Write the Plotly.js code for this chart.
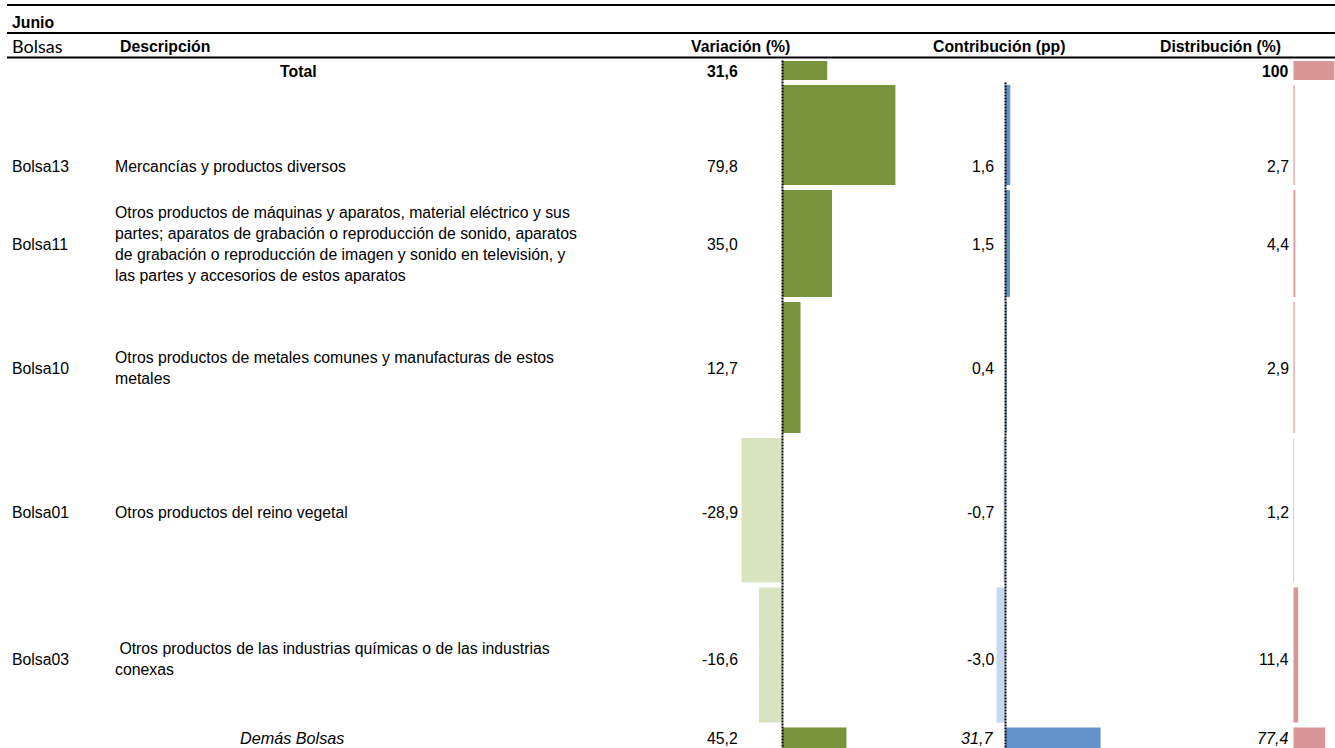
<!DOCTYPE html>
<html>
<head>
<meta charset="utf-8">
<script src="https://cdn.plot.ly/plotly-3.0.1.min.js"></script>
<style>html,body{margin:0;padding:0;background:#fff;}#chart{width:1335px;height:748px;}</style>
</head>
<body>
<div id="chart"></div>
<script>
// ---------------- DATA ----------------
const periodo = "Junio";
const headers = ["Bolsas", "Descripción", "Variación (%)", "Contribución (pp)", "Distribución (%)"];
const bolsas = ["", "Bolsa13", "Bolsa11", "Bolsa10", "Bolsa01", "Bolsa03", ""];
const descripcion = [
  "Total",
  "Mercancías y productos diversos",
  "Otros productos de máquinas y aparatos, material eléctrico y sus\npartes; aparatos de grabación o reproducción de sonido, aparatos\nde grabación o reproducción de imagen y sonido en televisión, y\nlas partes y accesorios de estos aparatos",
  "Otros productos de metales comunes y manufacturas de estos\nmetales",
  "Otros productos del reino vegetal",
  "\u00a0Otros productos de las industrias químicas o de las industrias\nconexas",
  "Demás Bolsas"
];
const variacion = [31.6, 79.8, 35.0, 12.7, -28.9, -16.6, 45.2];
const contribucion = [null, 1.6, 1.5, 0.4, -0.7, -3.0, 31.7];
const distribucion = [100, 2.7, 4.4, 2.9, 1.2, 11.4, 77.4];

// ---------------- LAYOUT / STYLE ----------------
const W = 1335, H = 748;
const rowEdges = [58.5, 82.5, 187.5, 299.5, 435.5, 585, 725, 751];
const barGap = 5;
const textY = [71, 166, 244, 368, 512, 659, 738];
const lineStep = 21.3;
const FONT = "Liberation Sans, Arial, sans-serif";
const FS = 15.8;
const colVarRight = 737.5, colConRight = 993.5, colDisRight = 1289;
const colBolsa = 12, colDesc = 114.5;

const C = {
  varPos: "#77933C", varNeg: "#D7E4BD",
  conPos: "#6591CB", conNeg: "#C6D9F1",
  dis: "#D99694"
};

// axis geometry: zero pixel, pixels per unit, pixel extent of domain
function axisSpec(zeroPx, ppu, px0, px1) {
  return {
    domain: [px0 / W, px1 / W],
    range: [(px0 - zeroPx) / ppu, (px1 - zeroPx) / ppu],
    visible: false, fixedrange: true, anchor: "y"
  };
}

const centers = rowEdges.slice(0, -1).map((e, i) => (e + rowEdges[i + 1]) / 2);
const thick = rowEdges.slice(0, -1).map((e, i) => rowEdges[i + 1] - e - barGap);

const traces = [
  {
    type: "bar", orientation: "h", y: centers, x: variacion, width: thick,
    marker: { color: variacion.map(v => v >= 0 ? C.varPos : C.varNeg), line: { width: 0 } },
    xaxis: "x", yaxis: "y", hoverinfo: "skip"
  },
  {
    type: "bar", orientation: "h", y: centers, x: contribucion, width: thick,
    marker: { color: contribucion.map(v => (v === null || v >= 0) ? C.conPos : C.conNeg), line: { width: 0 } },
    xaxis: "x2", yaxis: "y", hoverinfo: "skip"
  },
  {
    type: "bar", orientation: "h", y: centers, x: distribucion, width: thick,
    marker: { color: C.dis, line: { width: 0 } },
    xaxis: "x3", yaxis: "y", hoverinfo: "skip"
  }
];

function fmt(v) {
  if (v === null || v === undefined) return "";
  if (Number.isInteger(v) && Math.abs(v) >= 100) return String(v);
  return v.toFixed(1).replace(".", ",");
}

const ann = [];
function txt(t, xpx, y, anchor, opts) {
  opts = opts || {};
  ann.push({
    text: t, xref: "paper", x: xpx / W, yref: "y", y: y,
    xanchor: anchor, yanchor: "middle", showarrow: false, align: "left",
    borderpad: 0, borderwidth: 0,
    font: { family: opts.family || FONT, size: opts.size || FS, color: "#000" }
  });
}

// title row + headers
txt("<b>" + periodo + "</b>", colBolsa, 22, "left");
txt(headers[0], colBolsa - 0.5, 46, "left", { family: "Lato, Carlito, sans-serif", size: 18 });
txt("<b>" + headers[1] + "</b>", 119.5, 46, "left");
txt("<b>" + headers[2] + "</b>", 740, 46, "center");
txt("<b>" + headers[3] + "</b>", 998.5, 46, "center");
txt("<b>" + headers[4] + "</b>", 1220, 46, "center");

// style per row: 0=total(bold), last=others(italic)
const last = bolsas.length - 1;
bolsas.forEach((b, i) => {
  const y = textY[i];
  if (i === 0) {
    txt("<b>" + descripcion[i] + "</b>", 298, y, "center");
    txt("<b>" + fmt(variacion[i]) + "</b>", colVarRight, y, "right");
    txt("<b>" + fmt(contribucion[i]) + "</b>", colConRight, y, "right");
    txt("<b>" + fmt(distribucion[i]) + "</b>", colDisRight, y, "right");
  } else if (i === last) {
    txt("<i>" + descripcion[i] + "</i>", 292, y, "center", { size: 16.2 });
    txt(fmt(variacion[i]), colVarRight, y, "right");
    txt("<i>" + fmt(contribucion[i]) + "</i>", colConRight, y, "right", { size: 16.2 });
    txt("<i>" + fmt(distribucion[i]) + "</i>", colDisRight, y, "right", { size: 16.2 });
  } else {
    txt(b, colBolsa, y, "left");
    const lines = descripcion[i].split("\n");
    lines.forEach((ln, k) => {
      txt(ln, colDesc, y + (k - (lines.length - 1) / 2) * lineStep, "left");
    });
    txt(fmt(variacion[i]), colVarRight, y, "right");
    txt(fmt(contribucion[i]), colConRight, y, "right");
    txt(fmt(distribucion[i]), colDisRight, y, "right");
  }
});

const shapes = [
  { type: "line", xref: "paper", yref: "y", x0: 7 / W, x1: 1, y0: 5, y1: 5, line: { color: "#000", width: 2 } },
  { type: "line", xref: "paper", yref: "y", x0: 7 / W, x1: 1, y0: 33, y1: 33, line: { color: "#000", width: 2 } },
  { type: "line", xref: "paper", yref: "y", x0: 7 / W, x1: 1, y0: 57.5, y1: 57.5, line: { color: "#000", width: 2 } },
  { type: "line", xref: "x", yref: "y", x0: 0, x1: 0, y0: rowEdges[0] + 2, y1: H, line: { color: "#000", width: 2, dash: "2px,1px" } },
  { type: "line", xref: "x2", yref: "y", x0: 0, x1: 0, y0: rowEdges[1], y1: H, line: { color: "#000", width: 2, dash: "2px,1px" } }
];

const layout = {
  width: W, height: H,
  margin: { l: 0, r: 0, t: 0, b: 0, pad: 0 },
  paper_bgcolor: "#fff", plot_bgcolor: "rgba(0,0,0,0)",
  showlegend: false, barmode: "overlay",
  xaxis: axisSpec(782.5, 1.415, 690, 910),
  xaxis2: axisSpec(1005.5, 3.0, 990, 1110),
  xaxis3: axisSpec(1293.5, 0.41, 1285, 1335),
  yaxis: { range: [H, 0], domain: [0, 1], visible: false, fixedrange: true },
  annotations: ann,
  shapes: shapes
};

Plotly.newPlot("chart", traces, layout, { staticPlot: true, displayModeBar: false });
</script>
</body>
</html>
